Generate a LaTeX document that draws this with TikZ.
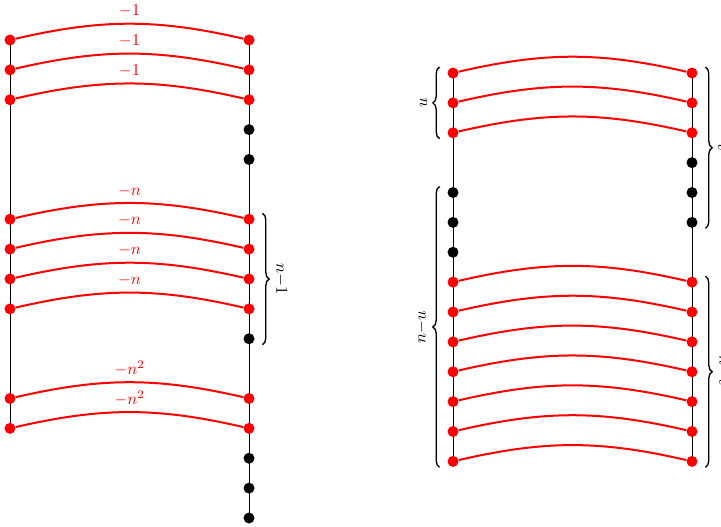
\documentclass[tikz,border=0pt]{standalone}
\usetikzlibrary{decorations.pathreplacing,backgrounds}

\tikzset{
  rdot/.style={circle,fill=red,inner sep=0pt,minimum size=6.6pt},
  bdot/.style={circle,fill=black,inner sep=0pt,minimum size=6.6pt},
  redge/.style={red,very thick,bend left=13},
  wlabel/.style={above,red},
  brc/.style={decorate,decoration={brace,amplitude=4pt},thick},
}

\begin{document}
\begin{tikzpicture}[x=0.63cm,y=0.63cm]

\useasboundingbox (-0.335,1.339) rectangle (23.799,-16.301);

% first graph
\foreach \i in {0,1,2,6,7,8,9,12,13}{
\node[rdot] (a\i) at (0,-\i) {};
\node[rdot] (b\i) at (8,-\i) {};
}
\foreach \i in {3,4,10,14,15,16}
\node[bdot] (b\i) at (8,-\i) {};

\begin{scope}[on background layer]
\draw (a0.center)--(a13.center);
\draw (b0.center)--(b16.center);
\end{scope}

\foreach \i in {0,1,2}
\draw[redge] (a\i) to node[wlabel]{$-1$} (b\i);
\foreach \i in {6,...,9}
\draw[redge] (a\i) to node[wlabel]{$-n$} (b\i);
\foreach \i in {12,13}
\draw[redge] (a\i) to node[wlabel]{$-n^2$} (b\i);

\draw[brc] ([shift={(0.45,0.2)}]b6.center)--([shift={(0.45,-0.2)}]b10.center) coordinate[midway] (nm);
\node[rotate=-90,anchor=south] at ([xshift=4pt]nm) {$n{-}1$};

% second graph
\begin{scope}[shift={(14.828,-1.105)}]
\foreach \i in {0,1,2,7,8,...,13}{
\node[rdot] (c\i) at (0,-\i) {};
\node[rdot] (d\i) at (8,-\i) {};
}
\foreach \i in {4,5,6}
\node[bdot] (c\i) at (0,-\i) {};
\foreach \i in {3,4,5}
\node[bdot] (d\i) at (8,-\i) {};

\begin{scope}[on background layer]
\draw (c0.center)--(c13.center);
\draw (d0.center)--(d13.center);
\end{scope}

\foreach \i in {0,1,2,7,8,...,13}
\draw[redge] (c\i) to (d\i);
\end{scope}

\draw[brc] ([shift={(-0.45,-0.2)}]c2.center)--([shift={(-0.45,0.2)}]c0.center) coordinate[midway] (um);
\node[rotate=90,anchor=south] at ([xshift=-4pt]um) {$u$};
\draw[brc] ([shift={(-0.45,-0.2)}]c13.center)--([shift={(-0.45,0.2)}]c4.center) coordinate[midway] (num);
\node[rotate=90,anchor=south] at ([xshift=-4pt]num) {$n{-}u$};

\draw[brc] ([shift={(0.45,0.2)}]d0.center)--([shift={(0.45,-0.2)}]d5.center) coordinate[midway] (vm);
\node[rotate=-90,anchor=south] at ([xshift=4pt]vm) {$v$};
\draw[brc] ([shift={(0.45,0.2)}]d7.center)--([shift={(0.45,-0.2)}]d13.center) coordinate[midway] (nvm);
\node[rotate=-90,anchor=south] at ([xshift=4pt]nvm) {$n{-}v$};

\end{tikzpicture}
\end{document}
